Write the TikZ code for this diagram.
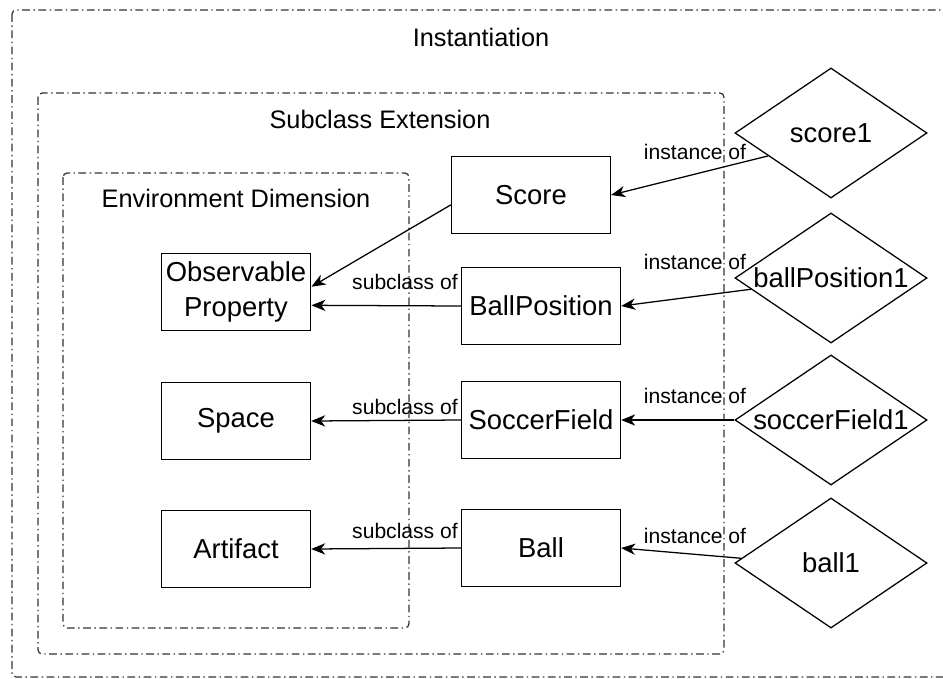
\documentclass[tikz,border=0pt]{standalone}
\usepackage{fontspec}
\setmainfont{Liberation Sans}
\usepackage{tikz}
\usetikzlibrary{shapes.geometric,arrows.meta}

\begin{document}
\begin{tikzpicture}[x=0.025cm,y=-0.025cm,
    frame/.style={line width=0.9pt,rounded corners=3pt,
        dash pattern=on 5.5pt off 2.5pt on 1pt off 2.5pt,black!80},
    frametitle/.style={font=\fontsize{18}{22}\selectfont},
    classbox/.style={draw,line width=0.9pt,minimum height=1.925cm,
        font=\fontsize{19.5}{25}\selectfont,align=center},
    instbox/.style={draw,diamond,line width=0.9pt,inner sep=0pt,
        aspect=1.48,minimum width=4.8cm,minimum height=3.25cm,
        font=\fontsize{19.5}{25}\selectfont},
    rel/.style={font=\fontsize{15}{18}\selectfont},
    link/.style={line width=0.9pt,-{Stealth[length=10pt,width=8pt,inset=3pt]}}]
    \useasboundingbox (0,0) rectangle (943,679);

    % Frames
    \draw[frame] (12,10) rectangle (960,677);
    \draw[frame] (38,93) rectangle (724,654);
    \draw[frame] (63,173) rectangle (409,628);
    \node[frametitle] (instT) at (481,37) {Instantiation};
    \node[frametitle] (subT) at (380,119) {Subclass Extension};
    \node[frametitle] (envT) at (236,198) {Environment Dimension};

    % Environment classes
    \node[classbox,minimum width=3.725cm] (obs) at (236,292) {Observable\\Property};
    \node[classbox,minimum width=3.725cm] (space) at (236,421) {Space};
    \node[classbox,minimum width=3.725cm] (artifact) at (236,549) {Artifact};

    % Subclasses
    \node[classbox,minimum width=3.975cm] (score) at (531,195) {Score};
    \node[classbox,minimum width=3.975cm] (ballpos) at (541,306) {BallPosition};
    \node[classbox,minimum width=3.975cm] (field) at (541,420) {SoccerField};
    \node[classbox,minimum width=3.975cm] (ball) at (541,548) {Ball};

    % Instances
    \node[instbox] (score1) at (831,133) {score1};
    \node[instbox] (ballpos1) at (831,278) {ballPosition1};
    \node[instbox] (field1) at (831,420) {soccerField1};
    \node[instbox] (ball1) at (831,563) {ball1};

    % Subclass links
    \draw[link] (score.187) -- (obs.4);
    \draw[link] (ballpos.west) -- (obs.-10);
    \draw[link] (field.west) -- (space.east);
    \draw[link] (ball.west) -- (artifact.east);
    \node[rel] (sub1) at (405,282) {subclass of};
    \node[rel] (sub2) at (405,407) {subclass of};
    \node[rel] (sub3) at (405,531) {subclass of};

    % Instance links
    \draw[link] (score1.200) -- (score.east);
    \draw[link] (ballpos1.188) -- (ballpos.east);
    \draw[link] (field1.west) -- (field.east);
    \draw[link] (ball1.177) -- (ball.east);
    \node[rel] (inst1) at (695,152) {instance of};
    \node[rel] (inst2) at (695,262) {instance of};
    \node[rel] (inst3) at (695,396) {instance of};
    \node[rel] (inst4) at (695,536) {instance of};
\end{tikzpicture}
\end{document}
